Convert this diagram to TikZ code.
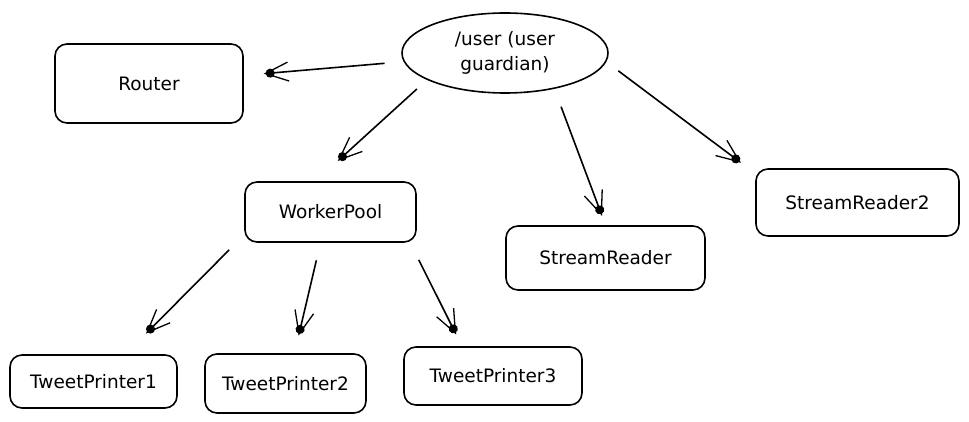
\documentclass[tikz,border=0pt]{standalone}
\usepackage{fontspec}
\setmainfont{DejaVu Sans}
\usetikzlibrary{arrows.meta,shapes.geometric}
\begin{document}
\begin{tikzpicture}[x=1pt,y=-1pt,
  box/.style={draw, line width=1.6pt, rounded corners=12pt, inner sep=0pt,
    font=\fontsize{18.5}{22}\selectfont},
  oval/.style={draw, ellipse, line width=1.6pt, inner sep=0pt, align=center,
    font=\fontsize{18.5}{25}\selectfont},
  arr/.style={line width=1.6pt,
    -{Straight Barb[length=23pt,width=19pt,line width=1.3pt,sep=-11pt]Circle[length=9pt]}}
]
\useasboundingbox[fill=white] (0,0) rectangle (969,422);

\node[oval, minimum width=206pt, minimum height=80pt] (user) at (505,53) {/user (user\\guardian)};
\node[box, minimum width=188pt, minimum height=79pt] (router) at (149,83.5) {Router};
\node[box, minimum width=171pt, minimum height=60pt] (wp) at (330.5,212) {WorkerPool};
\node[box, minimum width=199pt, minimum height=64pt] (sr) at (605.5,258) {StreamReader};
\node[box, minimum width=203pt, minimum height=67pt] (sr2) at (857.5,202.5) {StreamReader2};
\node[box, minimum width=167pt, minimum height=53pt] (tp1) at (93.5,381.5) {TweetPrinter1};
\node[box, minimum width=161pt, minimum height=59pt] (tp2) at (285.5,383.5) {TweetPrinter2};
\node[box, minimum width=178pt, minimum height=58pt] (tp3) at (493,376) {TweetPrinter3};

\draw[arr, shorten <=19pt, shorten >=22pt] (user) -- (router);
\draw[arr, shorten <=13.5pt, shorten >=32pt] (user.199) -- ([xshift=-15pt]wp.north);
\draw[arr, shorten <=19pt, shorten >=12pt] (user.-36.4) -- (sr.north);
\draw[arr, shorten <=15pt, shorten >=11pt] (user.-5) -- ([xshift=-7pt]sr2.north west);
\draw[arr, shorten <=10pt, shorten >=31pt] ([xshift=-8pt]wp.south west) -- ([xshift=32pt]tp1.north);
\draw[arr, shorten <=18pt, shorten >=20pt] ([xshift=-10pt]wp.south) -- ([xshift=9pt]tp2.north);
\draw[arr, shorten <=19pt, shorten >=15pt] ([xshift=-6.6pt]wp.south east) -- ([xshift=-31pt]tp3.north);
\end{tikzpicture}
\end{document}
